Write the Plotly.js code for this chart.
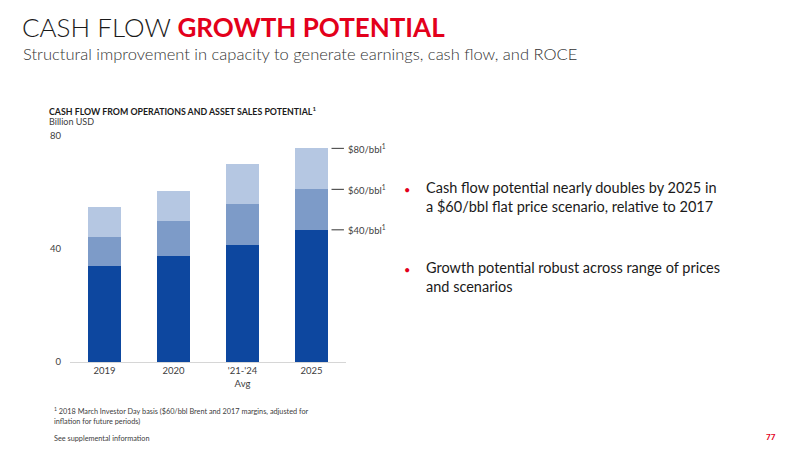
<!DOCTYPE html>
<html>
<head>
<meta charset="utf-8">
<script src="https://cdn.plot.ly/plotly-3.0.1.min.js"></script>
<style>html,body{margin:0;padding:0;background:#fff;}#chart{width:800px;height:450px;}</style>
</head>
<body>
<div id="chart"></div>
<script>
// ---- data ----
const categories = ["2019", "2020", "'21-'24<br>Avg", "2025"];
const base40 = [34.1, 37.6, 41.5, 46.8];      // $40/bbl cash flow
const add60 = [10.2, 12.2, 14.3, 14.3];       // increment to $60/bbl
const add80 = [10.4, 10.7, 14.3, 14.5];       // increment to $80/bbl
const priceLabels = ["$40/bbl<sup>1</sup>", "$60/bbl<sup>1</sup>", "$80/bbl<sup>1</sup>"];
const yTicks = [0, 40, 80];

// ---- layout helpers ----
const W = 800, H = 450;
const M = {l: 70, r: 454, t: 136, b: 88};
const pw = W - M.l - M.r, ph = H - M.t - M.b;
const px = x => (x - M.l) / pw;
const py = y => (H - M.b - y) / ph;

const FONT = "Lato, 'Open Sans', sans-serif";
const RED = "#e3001b";
const colors = ["#0d479f", "#7d9bc8", "#b5c7e2"];

const idx = categories.map((c, i) => i);
const traces = [base40, add60, add80].map((vals, k) => ({
  type: "bar",
  x: idx,
  y: vals,
  marker: {color: colors[k], line: {width: 0}},
  hoverinfo: "skip"
}));

// leader lines + labels at last bar's tier tops
const last = categories.length - 1;
const tiers = [base40[last], base40[last] + add60[last], base40[last] + add60[last] + add80[last]];
const shapes = tiers.map(v => ({
  type: "line", xref: "x", yref: "y",
  x0: last + 0.29, x1: last + 0.47, y0: v, y1: v,
  line: {color: "#555", width: 1.2}
}));

const ann = [];
tiers.forEach((v, k) => ann.push({
  xref: "x", yref: "y", x: last + 0.5, y: v, xanchor: "left", yanchor: "middle",
  text: priceLabels[k], showarrow: false, font: {family: FONT, size: 9.5, color: "#404040"}
}));

function txt(x, y, text, size, color, opts) {
  ann.push(Object.assign({
    xref: "paper", yref: "paper", x: px(x), y: py(y), xanchor: "left", yanchor: "middle",
    text: text, showarrow: false, align: "left",
    font: {family: FONT, size: size, color: color}
  }, opts || {}));
}

txt(20, 27, '<span style="font-weight:300">CASH FLOW</span> <b style="color:' + RED + '">GROWTH POTENTIAL</b>', 26, "#1a1a1a");
txt(21, 54, '<span style="font-weight:300">Structural improvement in capacity to generate earnings, cash flow, and ROCE</span>', 16.5, "#333333");
txt(47, 111, "<b>CASH FLOW FROM OPERATIONS AND ASSET SALES POTENTIAL<sup>1</sup></b>", 8.8, "#1a1a1a");
txt(47, 122, "Billion USD", 9, "#404040");

txt(402, 189, "•", 11, RED);
txt(424, 197, "Cash flow potential nearly doubles by 2025 in<br>a $60/bbl flat price scenario, relative to 2017", 14.5, "#1a1a1a");
txt(402, 269, "•", 11, RED);
txt(424, 277, "Growth potential robust across range of prices<br>and scenarios", 14.5, "#1a1a1a");

txt(52, 416, "<sup>1</sup> 2018 March Investor Day basis ($60/bbl Brent and 2017 margins, adjusted for<br>inflation for future periods)", 7.3, "#404040");
txt(52, 438, "See supplemental information", 7.3, "#404040");
txt(764, 437, "<b>77</b>", 8, RED);

const layout = {
  width: W, height: H,
  margin: M,
  paper_bgcolor: "#fff", plot_bgcolor: "#fff",
  barmode: "stack",
  bargap: 0.51,
  showlegend: false,
  font: {family: FONT, color: "#404040"},
  xaxis: {
    range: [-0.5, last + 0.5],
    tickvals: idx, ticktext: categories,
    showline: true, linecolor: "#d6d6d6", linewidth: 1,
    showgrid: false, zeroline: false, ticks: "",
    tickfont: {family: FONT, size: 9.5, color: "#404040"}
  },
  yaxis: {
    range: [0, 80],
    tickvals: yTicks, ticktext: yTicks.map(String),
    showgrid: false, zeroline: false, showline: false, ticks: "",
    ticklabelstandoff: 8,
    tickfont: {family: FONT, size: 9.5, color: "#404040"}
  },
  shapes: shapes,
  annotations: ann
};

Plotly.newPlot("chart", traces, layout, {displayModeBar: false, staticPlot: true});
</script>
</body>
</html>
